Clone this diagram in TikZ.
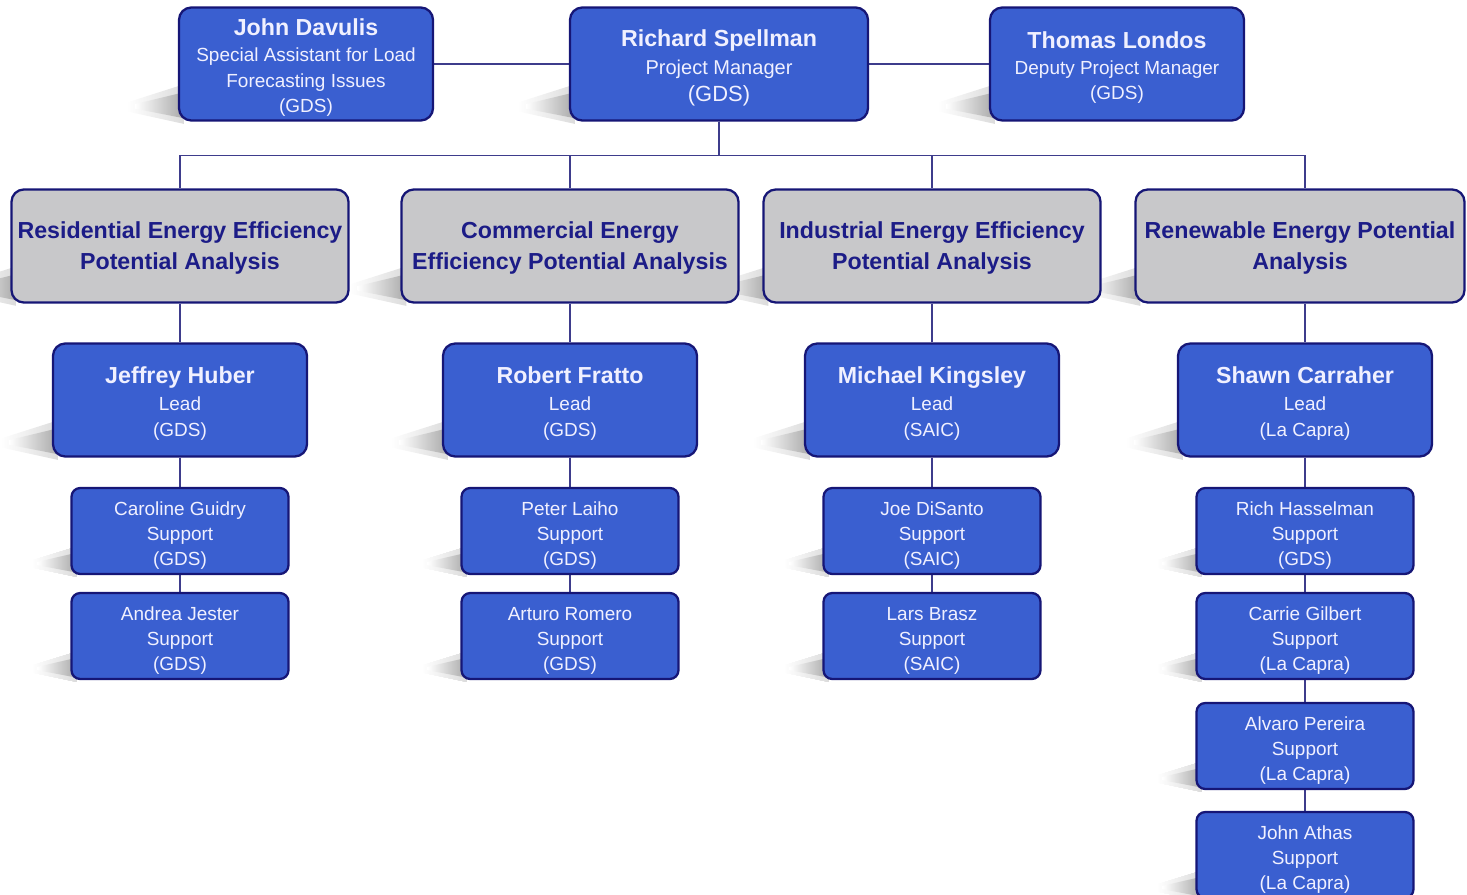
\documentclass[tikz,border=0pt]{standalone}
\usepackage{fontspec}
\setmainfont{Liberation Sans}
\usetikzlibrary{calc,backgrounds}
\definecolor{boxblue}{RGB}{58,95,208}
\definecolor{boxline}{RGB}{22,22,118}
\definecolor{catgray}{RGB}{200,200,202}
\definecolor{cattext}{RGB}{28,28,135}
\definecolor{linkcol}{RGB}{62,60,140}
\tikzset{
  member/.style={draw=boxline, fill=boxblue, line width=1.3pt, rounded corners=7pt,
    text=white!94!blue, align=center, inner sep=0pt,
    font=\fontsize{10.8}{14.2}\selectfont},
  boss/.style={member, minimum width={254*0.02cm}, minimum height={113*0.02cm}},
  lead/.style={boss},
  helper/.style={member, rounded corners=5pt, minimum width={217*0.02cm}, minimum height={86*0.02cm}},
  area/.style={member, fill=catgray, text=cattext, minimum width={337*0.02cm}, minimum height={113*0.02cm},
    font=\bfseries\fontsize{13.2}{17.5}\selectfont},
  link/.style={draw=linkcol, line width=0.9pt},
  cast/.style={left color=white, right color=black!34},
  castsoft/.style={left color=white, right color=black!14}
}
\newcommand\lift[1]{\rule{0pt}{#1pt}}
\newcommand\who[1]{{\bfseries\fontsize{13.2}{16}\selectfont\lift{14}#1}}
\newcommand\castshadow[2]{%
  \shade[castsoft] ($(#1.south west)+(6,-0.33*#2)$) -- ($(#1.south west)+(-0.45*#2,-0.17*#2)$)
    -- ($(#1.south west)+(-0.45*#2,-0.09*#2)$) -- ($(#1.south west)+(6,0.02*#2)$) -- cycle;
  \shade[cast] ($(#1.south west)+(6,-0.26*#2)$) -- ($(#1.south west)+(-0.38*#2,-0.155*#2)$)
    -- ($(#1.south west)+(-0.38*#2,-0.115*#2)$) -- ($(#1.south west)+(6,-0.03*#2)$) -- cycle;}
\begin{document}
\begin{tikzpicture}[x=0.02cm, y=-0.02cm]
\useasboundingbox (0,0) rectangle (1467,895);
\node[boss, font=\fontsize{10.8}{14.6}\selectfont] (davulis) at (306,64) {\who{John Davulis}\\Special Assistant for Load\\Forecasting Issues\\(GDS)};
\node[boss, minimum width={298*0.02cm}, font=\fontsize{11.4}{15.4}\selectfont] (spellman) at (719,64) {\who{Richard Spellman}\\Project Manager\\{\fontsize{12.5}{15}\selectfont(GDS)}};
\node[boss, font=\fontsize{10.8}{14.6}\selectfont] (londos) at (1117,64) {\who{Thomas Londos}\\Deputy Project Manager\\(GDS)};

\node[area] (res) at (180,246) {\lift{12}Residential Energy Efficiency\\Potential Analysis};
\node[area] (com) at (570,246) {\lift{12}Commercial Energy\\Efficiency Potential Analysis};
\node[area] (ind) at (932,246) {\lift{12}Industrial Energy Efficiency\\Potential Analysis};
\node[area, minimum width={329*0.02cm}] (ren) at (1300,246) {\lift{12}Renewable Energy Potential\\Analysis};

\node[lead, font=\fontsize{10.8}{15}\selectfont] (huber) at (180,400) {\who{Jeffrey Huber}\\Lead\\(GDS)};
\node[lead, font=\fontsize{10.8}{15}\selectfont] (fratto) at (570,400) {\who{Robert Fratto}\\Lead\\(GDS)};
\node[lead, font=\fontsize{10.8}{15}\selectfont] (kingsley) at (932,400) {\who{Michael Kingsley}\\Lead\\(SAIC)};
\node[lead, font=\fontsize{10.8}{15}\selectfont] (carraher) at (1305,400) {\who{Shawn Carraher}\\Lead\\(La Capra)};

\node[helper] (guidry) at (180,531) {\lift{13}Caroline Guidry\\Support\\(GDS)};
\node[helper] (jester) at (180,636) {\lift{13}Andrea Jester\\Support\\(GDS)};
\node[helper] (laiho) at (570,531) {\lift{13}Peter Laiho\\Support\\(GDS)};
\node[helper] (romero) at (570,636) {\lift{13}Arturo Romero\\Support\\(GDS)};
\node[helper] (disanto) at (932,531) {\lift{13}Joe DiSanto\\Support\\(SAIC)};
\node[helper] (brasz) at (932,636) {\lift{13}Lars Brasz\\Support\\(SAIC)};
\node[helper] (hasselman) at (1305,531) {\lift{13}Rich Hasselman\\Support\\(GDS)};
\node[helper] (gilbert) at (1305,636) {\lift{13}Carrie Gilbert\\Support\\(La Capra)};
\node[helper] (pereira) at (1305,746) {\lift{13}Alvaro Pereira\\Support\\(La Capra)};
\node[helper] (athas) at (1305,855) {\lift{13}John Athas\\Support\\(La Capra)};

\begin{scope}[on background layer]
\foreach \n in {davulis,spellman,londos,res,com,ind,ren,huber,fratto,kingsley,carraher}
  \castshadow{\n}{113}
\foreach \n in {guidry,jester,laiho,romero,disanto,brasz,hasselman,gilbert,pereira,athas}
  \castshadow{\n}{86}
\draw[link] (davulis) -- (spellman);
\draw[link] (spellman) -- (londos);
\foreach \c in {res,com,ind}
  \draw[link] (spellman.south) -- ++(0,34) -| (\c.north);
\draw[link] (spellman.south) -- ++(0,34) -| (carraher.north |- ren.north);
\draw[link] (res) -- (huber) -- (guidry) -- (jester);
\draw[link] (com) -- (fratto) -- (laiho) -- (romero);
\draw[link] (ind) -- (kingsley) -- (disanto) -- (brasz);
\draw[link] (carraher.north |- ren.south) -- (carraher) -- (hasselman) -- (gilbert) -- (pereira) -- (athas);
\end{scope}
\end{tikzpicture}
\end{document}
